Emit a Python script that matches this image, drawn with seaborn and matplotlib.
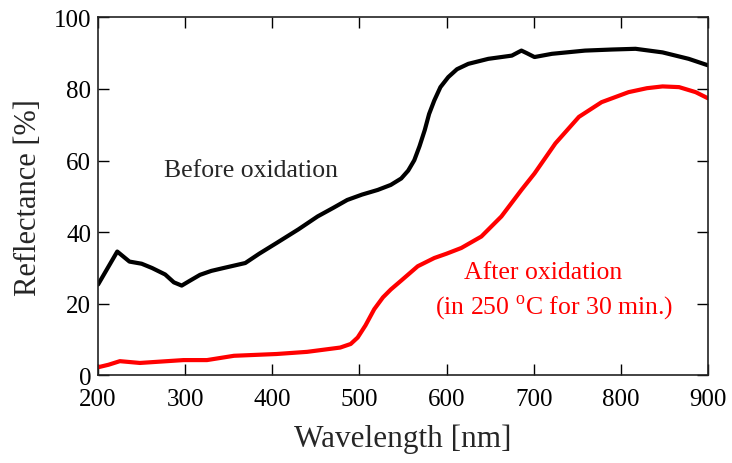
import pandas as pd
import matplotlib.pyplot as plt
import seaborn as sns

# Reflectance spectra
wl_before = [200, 211, 222, 229, 236, 250, 262, 277, 287, 296, 305, 317, 330, 344,
             369, 385, 405, 430, 452, 470, 486, 503, 521, 536, 548, 556, 563, 569,
             575, 580, 586, 593, 602, 612, 625, 648, 675, 682, 686, 692, 701, 721,
             759, 790, 817, 848, 878, 900]
r_before = [25.4, 30.0, 34.6, 33.2, 31.8, 31.2, 30.0, 28.2, 26.0, 25.1, 26.4, 28.1,
            29.2, 30.0, 31.4, 34.0, 37.0, 40.8, 44.4, 46.8, 49.0, 50.5, 51.8, 53.2,
            55.0, 57.2, 60.1, 64.0, 68.5, 73.0, 76.8, 80.5, 83.3, 85.5, 87.0, 88.4,
            89.3, 90.2, 90.7, 90.0, 88.9, 89.8, 90.7, 91.0, 91.2, 90.2, 88.4, 86.6]

wl_after = [200, 212, 225, 248, 298, 325, 356, 405, 440, 478, 490, 498, 507, 517,
            527, 536, 548, 567, 586, 600, 617, 640, 663, 686, 701, 725, 752, 778,
            809, 830, 848, 867, 886, 900]
r_after = [2.3, 3.0, 4.0, 3.5, 4.3, 4.3, 5.5, 6.0, 6.6, 7.8, 8.8, 10.6, 14.0, 18.5,
           21.8, 24.0, 26.5, 30.5, 32.8, 34.0, 35.6, 38.8, 44.4, 51.8, 56.4, 64.8,
           72.2, 76.3, 79.1, 80.2, 80.7, 80.5, 79.1, 77.4]

df = pd.concat([
    pd.DataFrame({'Wavelength': wl_before, 'Reflectance': r_before, 'Sample': 'Before'}),
    pd.DataFrame({'Wavelength': wl_after, 'Reflectance': r_after, 'Sample': 'After'}),
])

sns.set_style('ticks')
plt.rcParams['font.family'] = ['Liberation Serif', 'DejaVu Serif']
plt.rcParams['mathtext.fontset'] = 'custom'
plt.rcParams['mathtext.rm'] = 'Liberation Serif'

fig = plt.figure(figsize=(7.32, 4.64), dpi=100)
ax = fig.add_axes([0.134, 0.1886, 0.833, 0.772])

sns.lineplot(data=df, x='Wavelength', y='Reflectance', hue='Sample',
             palette={'Before': 'black', 'After': '#ff0000'},
             linewidth=3, legend=False, ax=ax, sort=False)

ax.set_xlim(200, 900)
ax.set_ylim(0, 100)
ax.set_xticks(range(200, 901, 100))
ax.set_yticks(range(0, 101, 20))
ax.tick_params(direction='in', top=True, right=True, length=8, width=1,
               labelsize=18, colors='black')
ax.tick_params(axis='x', pad=9)
ax.tick_params(axis='y', pad=5)
for s in ax.spines.values():
    s.set_linewidth(1.2)
    s.set_color('#222222')

ax.set_xlabel('Wavelength [nm]', fontsize=22.5, labelpad=10)
ax.set_ylabel('Reflectance [%]', fontsize=22, labelpad=8)

ax.text(376, 57.4, 'Before oxidation', fontsize=18.5, ha='center', va='center')
ax.text(711, 28.8, 'After oxidation', fontsize=18.5, ha='center', va='center', color='#ff0000')
ax.text(723, 19.3, r'(in 250 $^{\mathrm{o}}$C for 30 min.)', fontsize=18.5,
        ha='center', va='center', color='#ff0000')

fig.savefig('out.png', dpi=100)
